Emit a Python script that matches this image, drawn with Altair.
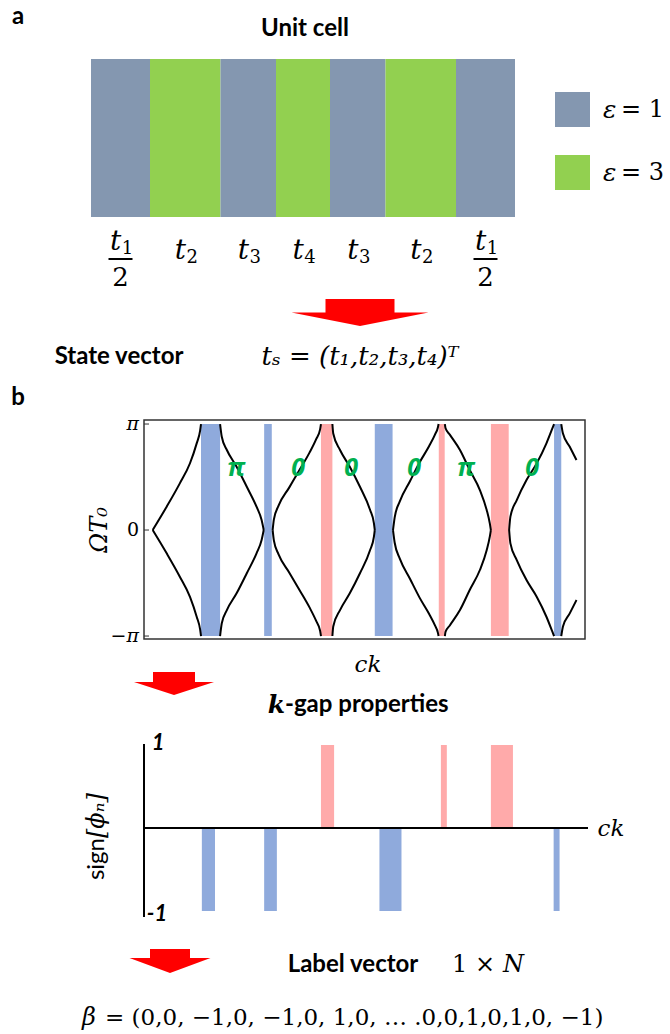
import altair as alt
import pandas as pd

SANS = "Lato, Open Sans, sans-serif"
BOLDSANS = "Open Sans, Lato, sans-serif"
SERIF = "DejaVu Serif"

# ---------------- Panel a: unit cell ----------------
t1, t2, t3, t4 = 1.18, 0.705, 0.555, 0.54
cell_thick = [t1 / 2, t2, t3, t4, t3, t2, t1 / 2]
cell_eps = [1, 3, 1, 3, 1, 3, 1]
cell_sub = ["1", "2", "3", "4", "3", "2", "1"]
cell_frac = [True, False, False, False, False, False, True]
eps_levels = [1, 3]
eps_colors = ["#8497B0", "#92D050"]

# ---------------- Panel b: band diagram ----------------
gap_start = [1.14, 2.63, 3.97, 5.24, 6.75, 7.98, 9.47]
gap_end = [1.59, 2.81, 4.24, 5.66, 6.89, 8.40, 9.64]
gap_kind = ["neg", "neg", "pos", "neg", "pos", "pos", "neg"]

# upper branches (Omega in units of pi); lower branches are their mirror image
band_ck = [
    [0.00, 0.33, 0.64, 0.88, 1.04, 1.12, 1.14],
    [1.59, 1.63, 1.75, 1.98, 2.22, 2.45, 2.57, 2.62],
    [2.83, 2.86, 2.97, 3.22, 3.47, 3.70, 3.86, 3.95, 3.97],
    [4.24, 4.26, 4.42, 4.65, 4.89, 5.13, 5.22, 5.24],
    [5.67, 5.71, 5.83, 6.07, 6.30, 6.52, 6.66, 6.73, 6.745],
    [6.894, 6.91, 7.01, 7.25, 7.48, 7.72, 7.88, 7.955, 7.979],
    [8.41, 8.44, 8.59, 8.82, 9.06, 9.29, 9.43, 9.47],
    [9.64, 9.68, 9.84, 10.0],
]
band_om = [
    [0.00, 0.22, 0.44, 0.63, 0.82, 0.94, 1.00],
    [1.00, 0.88, 0.755, 0.597, 0.408, 0.22, 0.094, 0.00],
    [0.00, 0.10, 0.23, 0.40, 0.57, 0.73, 0.86, 0.95, 1.00],
    [1.00, 0.91, 0.755, 0.597, 0.408, 0.189, 0.063, 0.00],
    [0.00, 0.12, 0.27, 0.46, 0.64, 0.79, 0.90, 0.97, 1.00],
    [1.00, 0.96, 0.90, 0.755, 0.566, 0.377, 0.19, 0.06, 0.00],
    [0.00, 0.126, 0.283, 0.472, 0.629, 0.818, 0.959, 1.00],
    [1.00, 0.91, 0.786, 0.66],
]

phase_ck = [1.97, 3.43, 4.68, 6.17, 7.39, 8.95]
phase_label = ["π", "0", "0", "0", "π", "0"]
phase_om = [0.585] * 6

omega_ticks = [1, 0, -1]
omega_tick_labels = ["π", "0", "−π"]
omega_tick_italic = [True, False, True]

# ---------------- sign panel ----------------
sign_start = [1.16, 2.63, 3.97, 5.35, 6.80, 7.98, 9.46]
sign_end = [1.47, 2.93, 4.28, 5.87, 6.94, 8.50, 9.60]
sign_val = [-1, -1, 1, -1, 1, 1, -1]

kind_colors = {"neg": "#8FAADC", "pos": "#FFAAAA"}

# ---------------- tables ----------------
ONE = pd.DataFrame({"_": [0]})

cell = pd.DataFrame({"thick": cell_thick, "eps": cell_eps, "sub": cell_sub, "frac": cell_frac})
cell["x1"] = cell["thick"].cumsum()
cell["x0"] = cell["x1"] - cell["thick"]
cell["mid"] = (cell["x0"] + cell["x1"]) / 2
cell["color"] = cell["eps"].map(dict(zip(eps_levels, eps_colors)))
total = float(cell["x1"].iloc[-1])
cell_f = cell[cell["frac"]].reset_index(drop=True)
cell_n = cell[~cell["frac"]].reset_index(drop=True)

gaps = pd.DataFrame({"a": gap_start, "b": gap_end, "kind": gap_kind})
gaps["color"] = gaps["kind"].map(kind_colors)
gaps["top"] = 1.0
gaps["bot"] = -1.0

rows = []
for s, (cks, oms) in enumerate(zip(band_ck, band_om)):
    for br, sg in (("u", 1), ("d", -1)):
        for i, (c, o) in enumerate(zip(cks, oms)):
            rows.append({"seg": f"{s}{br}", "i": i, "ck": c, "om": sg * o})
curve = pd.DataFrame(rows)

phases = pd.DataFrame({"ck": phase_ck, "om": phase_om, "lab": phase_label})
oticks = pd.DataFrame({"om": omega_ticks, "lab": omega_tick_labels, "it": omega_tick_italic})
oticks_it = oticks[oticks["it"]].reset_index(drop=True)
oticks_up = oticks[~oticks["it"]].reset_index(drop=True)

signs = pd.DataFrame({"a": sign_start, "b": sign_end, "v": sign_val})
signs["color"] = signs["v"].map({-1: kind_colors["neg"], 1: kind_colors["pos"]})
signs["zero"] = 0.0
zero_df = pd.DataFrame({"zero": [0.0]})

# ---------------- scales ----------------
xa = alt.Scale(domain=[0, total], range=[91, 515], nice=False, zero=False)
xb = alt.Scale(domain=[-0.205, 10.2], range=[144, 585], nice=False, zero=False)
yb = alt.Scale(domain=[-1.028, 1.038], range=[639, 420], nice=False, zero=False)
ys = alt.Scale(domain=[-1, 1], range=[911, 745], nice=False, zero=False)


def T(text, x, y, size, font=SANS, weight="normal", style="normal", color="black",
      align="center", baseline="middle", angle=None):
    kw = dict(text=text, fontSize=size, font=font, fontWeight=weight, fontStyle=style,
              color=color, align=align, baseline=baseline)
    if angle is not None:
        kw["angle"] = angle
    return alt.Chart(ONE).mark_text(**kw).encode(x=alt.value(x), y=alt.value(y))


def arrow(cx, hw, sh, top, head, tip):
    cy = (top + tip) / 2.0
    n = lambda v: round(v / hw, 4)
    p = (f"M{-n(sh)},{n(top - cy)} L{n(sh)},{n(top - cy)} L{n(sh)},{n(head - cy)} "
         f"L1,{n(head - cy)} L0,{n(tip - cy)} L-1,{n(head - cy)} L{-n(sh)},{n(head - cy)} Z")
    return alt.Chart(ONE).mark_point(shape=p, size=(2 * hw) ** 2, filled=True, fill="#FF0000",
                                     opacity=1, strokeWidth=0).encode(
        x=alt.value(cx), y=alt.value(cy))


layers = []

# ---- panel a ----
layers.append(T("a", 18, 17, 24, weight="bold"))
layers.append(T("Unit cell", 305, 29, 24, weight="bold"))
layers.append(alt.Chart(cell).mark_rect().encode(
    x=alt.X("x0:Q", scale=xa, axis=None), x2="x1:Q",
    y=alt.value(59), y2=alt.value(217),
    color=alt.Color("color:N", scale=None)))


def cell_text(df, y, dx, size, style, text=None, field=None):
    mk = dict(font=SERIF, fontSize=size, fontStyle=style, dx=dx, baseline="alphabetic", align="center")
    enc = dict(x=alt.X("mid:Q", scale=xa, axis=None), y=alt.value(y))
    if text is not None:
        mk["text"] = text
    if field is not None:
        enc["text"] = alt.Text(field + ":N")
    return alt.Chart(df).mark_text(**mk).encode(**enc)


layers.append(cell_text(cell_n, 259, -5, 28, "italic", text="t"))
layers.append(cell_text(cell_n, 263, 7, 18, "normal", field="sub"))
layers.append(cell_text(cell_f, 250, -5, 28, "italic", text="t"))
layers.append(cell_text(cell_f, 254, 7, 18, "normal", field="sub"))
layers.append(cell_text(cell_f, 286, 0, 26, "normal", text="2"))
layers.append(alt.Chart(cell_f).mark_point(shape="M-1,0 L1,0", size=24 ** 2, filled=False,
                                           stroke="black", strokeWidth=2, opacity=1).encode(
    x=alt.X("mid:Q", scale=xa, axis=None), y=alt.value(259)))

# legend
for k, (lev, col) in enumerate(zip(eps_levels, eps_colors)):
    y0 = 92 + 63 * k
    layers.append(alt.Chart(ONE).mark_rect(color=col).encode(
        x=alt.value(555), x2=alt.value(590), y=alt.value(y0), y2=alt.value(y0 + 35)))
    layers.append(T("ε", 603, y0 + 18, 25, font=SERIF, style="italic", align="left"))
    layers.append(T(f"= {lev}", 621, y0 + 18, 24, font=SERIF, align="left"))

layers.append(arrow(360, 68.5, 34.5, 299, 312.5, 326))
layers.append(T("State vector", 119, 357, 24, weight="bold"))
layers.append(T("tₛ = (t₁,t₂,t₃,t₄)ᵀ", 360, 357, 26, font=SERIF, style="italic"))

# ---- panel b ----
layers.append(T("b", 18, 398, 24, weight="bold"))
layers.append(alt.Chart(gaps).mark_rect().encode(
    x=alt.X("a:Q", scale=xb, axis=None), x2="b:Q",
    y=alt.Y("top:Q", scale=yb, axis=None), y2="bot:Q",
    color=alt.Color("color:N", scale=None)))
layers.append(alt.Chart(curve).mark_line(color="black", strokeWidth=2, interpolate="monotone").encode(
    x=alt.X("ck:Q", scale=xb, axis=None),
    y=alt.Y("om:Q", scale=yb, axis=None),
    detail="seg:N", order="i:Q"))
layers.append(alt.Chart(phases).mark_text(font=BOLDSANS, fontSize=25, fontWeight="bold", fontStyle="italic",
                                          color="#00B050").encode(
    x=alt.X("ck:Q", scale=xb, axis=None), y=alt.Y("om:Q", scale=yb, axis=None), text="lab:N"))
layers.append(alt.Chart(ONE).mark_rect(fillOpacity=0, stroke="#333333", strokeWidth=1.5).encode(
    x=alt.value(144), x2=alt.value(585), y=alt.value(420), y2=alt.value(639)))
layers.append(alt.Chart(oticks).mark_rule(color="#333333", strokeWidth=1).encode(
    x=alt.value(144), x2=alt.value(149), y=alt.Y("om:Q", scale=yb, axis=None)))
layers.append(alt.Chart(oticks_it).mark_text(font=SERIF, fontSize=19, fontStyle="italic", align="right").encode(
    x=alt.value(139), y=alt.Y("om:Q", scale=yb, axis=None), text="lab:N"))
layers.append(alt.Chart(oticks_up).mark_text(font=SERIF, fontSize=19, align="right").encode(
    x=alt.value(139), y=alt.Y("om:Q", scale=yb, axis=None), text="lab:N"))
layers.append(T("ΩT₀", 100, 530, 24, font=SERIF, style="italic", angle=270))
layers.append(T("ck", 368, 665, 23, font=SERIF, style="italic"))

layers.append(arrow(174, 40, 21, 672, 682, 695))
layers.append(T("k", 285, 705, 25, font=SERIF, weight="bold", style="italic", align="right"))
layers.append(T("-gap properties", 285, 705, 24, weight="bold", align="left"))

# ---- sign panel ----
layers.append(alt.Chart(signs).mark_rect().encode(
    x=alt.X("a:Q", scale=xb, axis=None), x2="b:Q",
    y=alt.Y("v:Q", scale=ys, axis=None), y2="zero:Q",
    color=alt.Color("color:N", scale=None)))
layers.append(alt.Chart(zero_df).mark_rule(color="black", strokeWidth=2).encode(
    x=alt.value(144), x2=alt.value(588), y=alt.Y("zero:Q", scale=ys, axis=None)))
layers.append(alt.Chart(ONE).mark_rule(color="black", strokeWidth=2).encode(
    x=alt.value(144), y=alt.value(744), y2=alt.value(917)))
layers.append(T("1", 158, 743, 22, weight="bold", style="italic"))
layers.append(T("-1", 157, 914, 22, weight="bold", style="italic"))
layers.append(T("ck", 611, 829, 23, font=SERIF, style="italic"))
layers.append(T("sign", 97, 838, 24, angle=270, align="right"))
layers.append(T("[ϕₙ]", 97, 838, 24, font=SERIF, style="italic", angle=270, align="left"))

layers.append(arrow(170, 40.5, 20, 949, 958, 973))
layers.append(T("Label vector", 353, 965, 24, weight="bold"))
layers.append(T("1 ×", 452, 965, 24, font=SERIF, align="left"))
layers.append(T("N", 524, 965, 24, font=SERIF, style="italic", align="right"))
layers.append(T("β", 82, 1018, 24, font=SERIF, style="italic", align="left"))
layers.append(T("= (0,0, −1,0, −1,0, 1,0, … .0,0,1,0,1,0, −1)", 105, 1018, 23, font=SERIF, align="left"))

chart = alt.layer(*layers).resolve_scale(x="independent", y="independent").properties(
    width=670, height=1034, padding=0, autosize=alt.AutoSizeParams(type="none"),
    background="white",
).configure_view(stroke=None)

chart.save("out.html", embed_options={"renderer": "svg", "actions": False})
